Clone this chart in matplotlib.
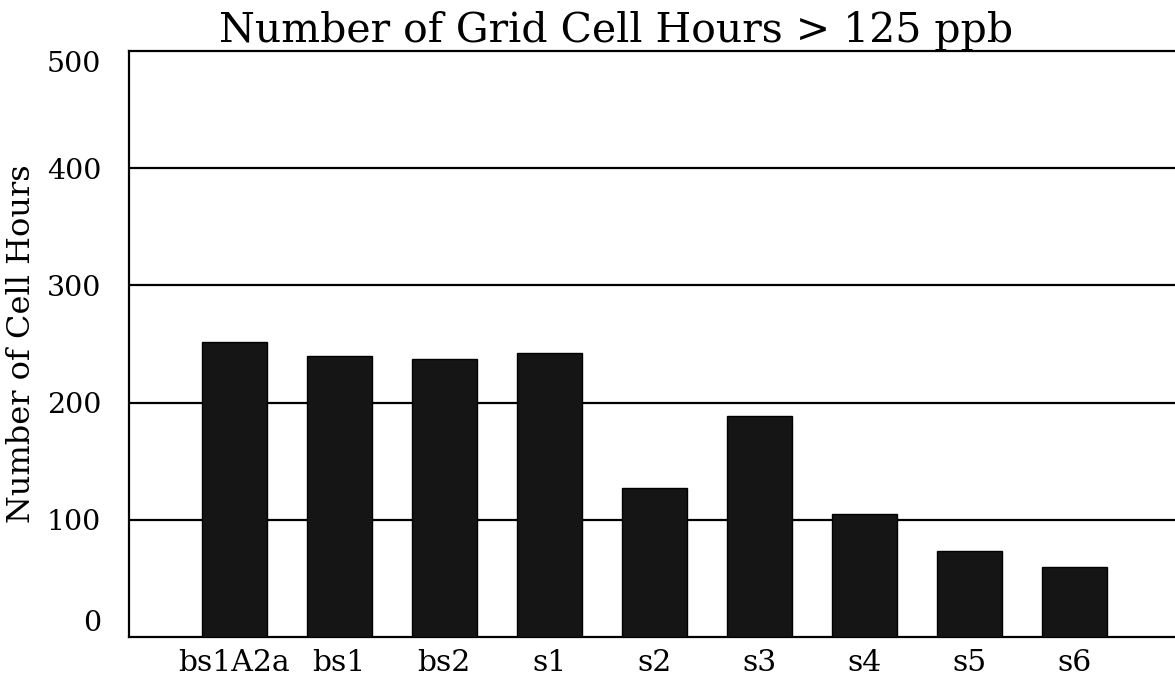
#!/usr/bin/env python3
"""Bar chart: number of grid cell hours above 125 ppb per scenario."""

import matplotlib
matplotlib.use("Agg")
import matplotlib.pyplot as plt
import numpy as np

# data
scenarios = ["bs1A2a", "bs1", "bs2", "s1", "s2", "s3", "s4", "s5", "s6"]
cell_hours = [252, 240, 237, 242, 127, 189, 105, 73, 60]
y_ticks = [0, 100, 200, 300, 400, 500]

TITLE = "Number of Grid Cell Hours > 125 ppb"
Y_LABEL = "Number of Cell Hours"

plt.rcParams["font.family"] = ["DejaVu Serif"]

fig = plt.figure(figsize=(11.75, 6.82), dpi=100)
ax = fig.add_axes([0.1098, 0.066, 0.8902, 0.859])

x = np.arange(len(scenarios))
ax.bar(x, cell_hours, width=0.62, color="#151515", edgecolor="black",
       linewidth=1.0, zorder=3)

# horizontal rules at every hundred
for t in y_ticks[1:-1]:
    ax.axhline(t, color="black", linewidth=1.6, zorder=1)

ax.set_xlim(-1, 8.955)
ax.set_ylim(0, 500)

ax.set_xticks(x)
ax.set_xticklabels(scenarios, fontsize=21.5)
ax.set_yticks(y_ticks)
ax.set_yticklabels([str(t) for t in y_ticks], fontsize=20.5)
ax.tick_params(axis="both", length=0)
ax.tick_params(axis="y", pad=20)
ax.tick_params(axis="x", pad=9)

# end labels sit inside the axis range, as in the original
ylabels = ax.get_yticklabels()
ylabels[0].set_verticalalignment("bottom")
ylabels[-1].set_verticalalignment("top")

for side in ("left", "bottom", "top"):
    ax.spines[side].set_linewidth(1.6)
ax.spines["right"].set_visible(False)

ax.set_ylabel(Y_LABEL, fontsize=23)
ax.yaxis.set_label_coords(-0.088, 0.5)

fig.text(0.524, 0.938, TITLE, ha="center", va="baseline", fontsize=29.5)

fig.savefig("out.png", dpi=100)
